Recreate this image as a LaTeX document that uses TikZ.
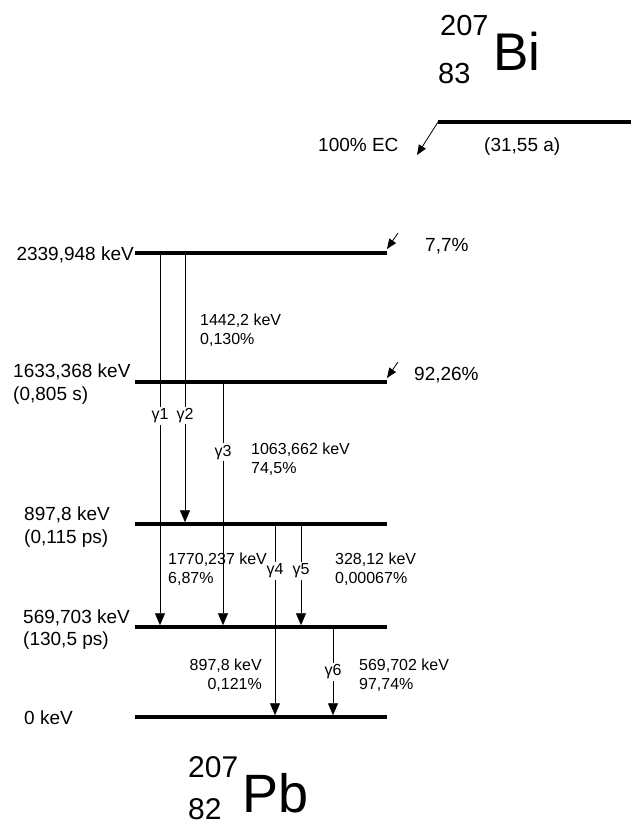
\documentclass[tikz,border=0pt]{standalone}
\usepackage{fontspec}
\setmainfont{Liberation Sans}
\usetikzlibrary{arrows.meta}

\begin{document}
\begin{tikzpicture}[x=1pt, y=-1pt, >={Triangle[length=12pt,width=10pt]},
    level/.style={line width=3.5pt},
    gam/.style={->, line width=0.8pt, shorten >=1.75pt},
    feed/.style={-{Triangle[length=10pt,width=8pt]}, line width=0.8pt},
    big/.style={anchor=base west, font=\fontsize{19}{23}\selectfont, inner sep=0pt},
    small/.style={anchor=base west, font=\fontsize{16}{19}\selectfont, inner sep=0pt},
    glbl/.style={font=\fontsize{16}{19}\selectfont, fill=white, inner sep=1.5pt}]
    \useasboundingbox (0,0) rectangle (631,823);

    % parent nucleus
    \node[anchor=base west, font=\fontsize{53}{60}\selectfont, inner sep=0pt] (bi) at (493,70) {Bi};
    \node[anchor=base west, font=\fontsize{29}{34}\selectfont, inner sep=0pt] (bia) at (440,35) {207};
    \node[anchor=base west, font=\fontsize{29}{34}\selectfont, inner sep=0pt] (biz) at (438,83) {83};

    \coordinate (biw) at (438,122);
    \coordinate (bie) at (631,122);
    \coordinate (ec) at (417,155);
    \draw[level] (biw) -- (bie);
    \draw[feed] (biw) -- (ec);
    \node[big] (ecl) at (318,151) {100\% EC};
    \node[big] (bit) at (484,151) {(31,55 a)};

    % levels of the daughter
    \coordinate (l2339w) at (135,253);  \coordinate (l2339e) at (387,253);
    \coordinate (l1633w) at (135,382);  \coordinate (l1633e) at (387,382);
    \coordinate (l897w) at (135,524);   \coordinate (l897e) at (387,524);
    \coordinate (l569w) at (135,627);   \coordinate (l569e) at (387,627);
    \coordinate (l0w) at (135,717);     \coordinate (l0e) at (387,717);

    \draw[level] (l2339w) -- (l2339e);
    \draw[level] (l1633w) -- (l1633e);
    \draw[level] (l897w) -- (l897e);
    \draw[level] (l569w) -- (l569e);
    \draw[level] (l0w) -- (l0e);

    \node[big, anchor=base east] (e2339) at (134,260) {2339,948 keV};
    \node[big] (e1633) at (13,377) {1633,368 keV};
    \node[big] (t1633) at (13,400) {(0,805 s)};
    \node[big] (e897) at (24,520) {897,8 keV};
    \node[big] (t897) at (24,543) {(0,115 ps)};
    \node[big] (e569) at (23,623) {569,703 keV};
    \node[big] (t569) at (23,645) {(130,5 ps)};
    \node[big] (e0) at (24,724) {0 keV};

    % EC feeding
    \coordinate (f1) at (398,233);
    \coordinate (f1e) at (387,249);
    \coordinate (f2) at (398,362);
    \coordinate (f2e) at (387,378);
    \draw[feed] (f1) -- (f1e);
    \draw[feed] (f2) -- (f2e);
    \node[big] (b2339) at (425,251) {7,7\%};
    \node[big] (b1633) at (414,380) {92,26\%};

    % gamma transitions
    \coordinate (c1) at (160,0);
    \coordinate (c2) at (185,0);
    \coordinate (c3) at (223,0);
    \coordinate (c4) at (275,0);
    \coordinate (c5) at (301,0);
    \coordinate (c6) at (333,0);

    \draw[gam] (c1 |- l2339w) -- node[glbl, pos=0.436] {γ1} (c1 |- l569w);
    \draw[gam] (c2 |- l2339w) -- node[glbl, pos=0.6] {γ2} (c2 |- l897w);
    \draw[gam] (c3 |- l1633w) -- node[glbl, pos=0.286] {γ3} (c3 |- l569w);
    \draw[gam] (c4 |- l897w) -- node[glbl, pos=0.244] {γ4} (c4 |- l0w);
    \draw[gam] (c5 |- l897w) -- node[glbl, pos=0.456] {γ5} (c5 |- l569w);
    \draw[gam] (c6 |- l569w) -- node[glbl, pos=0.5] {γ6} (c6 |- l0w);

    \node[small] (g2a) at (200,325) {1442,2 keV};
    \node[small] (g2b) at (200,344) {0,130\%};
    \node[small] (g3a) at (251,454) {1063,662 keV};
    \node[small] (g3b) at (251,473) {74,5\%};
    \node[small] (g1a) at (168,564) {1770,237 keV};
    \node[small] (g1b) at (168,583) {6,87\%};
    \node[small] (g5a) at (335,564) {328,12 keV};
    \node[small] (g5b) at (335,583) {0,00067\%};
    \node[small, anchor=base east] (g4a) at (262,670) {897,8 keV};
    \node[small, anchor=base east] (g4b) at (262,689) {0,121\%};
    \node[small] (g6a) at (359,670) {569,702 keV};
    \node[small] (g6b) at (359,689) {97,74\%};

    % daughter nucleus
    \node[anchor=base west, font=\fontsize{54}{60}\selectfont, inner sep=0pt] (pb) at (242,812) {Pb};
    \node[anchor=base west, font=\fontsize{30}{34}\selectfont, inner sep=0pt] (pba) at (188,777) {207};
    \node[anchor=base west, font=\fontsize{30}{34}\selectfont, inner sep=0pt] (pbz) at (188,819) {82};
\end{tikzpicture}
\end{document}
